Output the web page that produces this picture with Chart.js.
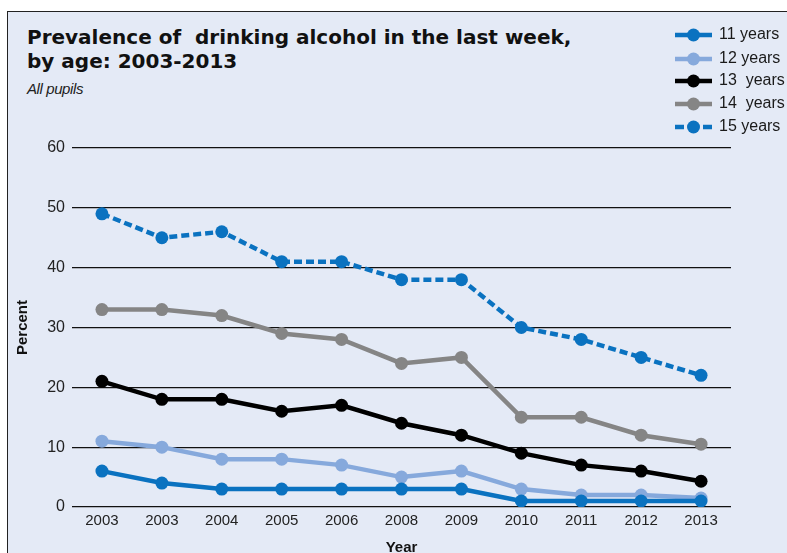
<!DOCTYPE html>
<html>
<head>
<meta charset="utf-8">
<script src="https://cdn.jsdelivr.net/npm/chart.js@4.4.0/dist/chart.umd.min.js"></script>
<style>
  html, body { margin: 0; padding: 0; background: #fff; overflow: hidden; }
  #box {
    position: absolute; left: 7px; top: 11px; width: 800px; height: 560px;
    background: #e4eaf6; border: 1.5px solid #222;
  }
  #titulo {
    position: absolute; left: 27px; top: 25px; margin: 0;
    font: bold 20px "DejaVu Sans", sans-serif; line-height: 24px;
    color: #111; white-space: pre;
  }
  #sub {
    position: absolute; left: 27px; top: 80px;
    font: italic 15px "Liberation Sans", Arial, sans-serif; color: #222;
    letter-spacing: -0.4px;
  }
  #wrap { position: absolute; left: 0; top: 0; width: 787px; height: 553px; }
</style>
</head>
<body>
<div id="box"></div>
<div id="titulo">Prevalence of  drinking alcohol in the last week,
by age: 2003-2013</div>
<div id="sub">All pupils</div>
<div id="wrap"><canvas id="myChart" width="787" height="553"></canvas></div>

<script>
// dados
var anos = ["2003", "2003", "2004", "2005", "2006", "2008", "2009", "2010", "2011", "2012", "2013"];
var idade11 = [6, 4, 3, 3, 3, 3, 3, 1, 1, 1, 1];
var idade12 = [11, 10, 8, 8, 7, 5, 6, 3, 2, 2, 1.5];
var idade13 = [21, 18, 18, 16, 17, 14, 12, 9, 7, 6, 4.3];
var idade14 = [33, 33, 32, 29, 28, 24, 25, 15, 15, 12, 10.5];
var idade15 = [49, 45, 46, 41, 41, 38, 38, 30, 28, 25, 22];
var rotulos = ["11 years", "12 years", "13  years", "14  years", "15 years"];
var yTicks = [0, 10, 20, 30, 40, 50, 60];

var fonte = '"Liberation Sans", Arial, sans-serif';

function serie(label, valores, cor, tracejado) {
  return {
    label: label,
    data: valores,
    borderColor: cor,
    backgroundColor: cor,
    pointBackgroundColor: cor,
    pointBorderWidth: 0,
    pointRadius: 6.5,
    borderWidth: 4.5,
    borderDash: tracejado ? [8, 4] : [],
    tension: 0,
  };
}

// legenda desenhada no canvas (linha + ponto)
var legendaPlugin = {
  id: "legenda",
  afterDraw: function (chart) {
    var ctx = chart.ctx;
    var ys = [35, 59, 81, 104, 127];
    chart.data.datasets.forEach(function (ds, i) {
      var y = ys[i];
      ctx.save();
      ctx.strokeStyle = ds.borderColor;
      ctx.lineWidth = 4.5;
      if (ds.borderDash.length) {
        ctx.beginPath();
        ctx.moveTo(675, y); ctx.lineTo(684, y);
        ctx.moveTo(703, y); ctx.lineTo(712, y);
        ctx.stroke();
      } else {
        ctx.beginPath();
        ctx.moveTo(675, y); ctx.lineTo(712, y);
        ctx.stroke();
      }
      ctx.fillStyle = ds.borderColor;
      ctx.beginPath();
      ctx.arc(693.5, y, 6.5, 0, Math.PI * 2);
      ctx.fill();
      ctx.fillStyle = "#1a1a1a";
      ctx.font = "16px " + fonte;
      ctx.textBaseline = "middle";
      ctx.fillText(ds.label, 719, y);
      ctx.restore();
    });
  },
};

const data = {
  labels: anos,
  datasets: [
    serie(rotulos[0], idade11, "#0a72c0", false),
    serie(rotulos[1], idade12, "#86a9dc", false),
    serie(rotulos[2], idade13, "#000000", false),
    serie(rotulos[3], idade14, "#858585", false),
    serie(rotulos[4], idade15, "#0a72c0", true),
  ],
};

const config = {
  type: "line",
  data: data,
  plugins: [legendaPlugin],
  options: {
    responsive: false,
    animation: false,
    layout: { padding: { top: 148, right: 56, left: 0, bottom: 0 } },
    plugins: { legend: { display: false }, tooltip: { enabled: false } },
    scales: {
      x: {
        offset: true,
        grid: { display: false, drawTicks: false },
        border: { display: false },
        ticks: { padding: 5, autoSkip: false, maxRotation: 0, color: "#222", font: { family: fonte, size: 15 } },
        title: { display: true, text: "Year", color: "#111", font: { family: fonte, size: 15, weight: "bold" }, padding: { top: 0, bottom: -4 } },
        afterFit: function (s) { s.height = 46; },
      },
      y: {
        min: 0,
        max: 60,
        afterBuildTicks: function (s) { s.ticks = yTicks.map(function (v) { return { value: v }; }); },
        grid: { color: "#111", lineWidth: 1.2, drawTicks: false },
        border: { display: false },
        ticks: { padding: 7, color: "#222", font: { family: fonte, size: 16 } },
        title: { display: true, text: "Percent", color: "#111", font: { family: fonte, size: 15, weight: "bold" }, padding: { top: 14, bottom: 0 } },
        afterFit: function (s) { s.width = 72; },
      },
    },
  },
};

const myChart = new Chart(document.getElementById("myChart"), config);
</script>
</body>
</html>
